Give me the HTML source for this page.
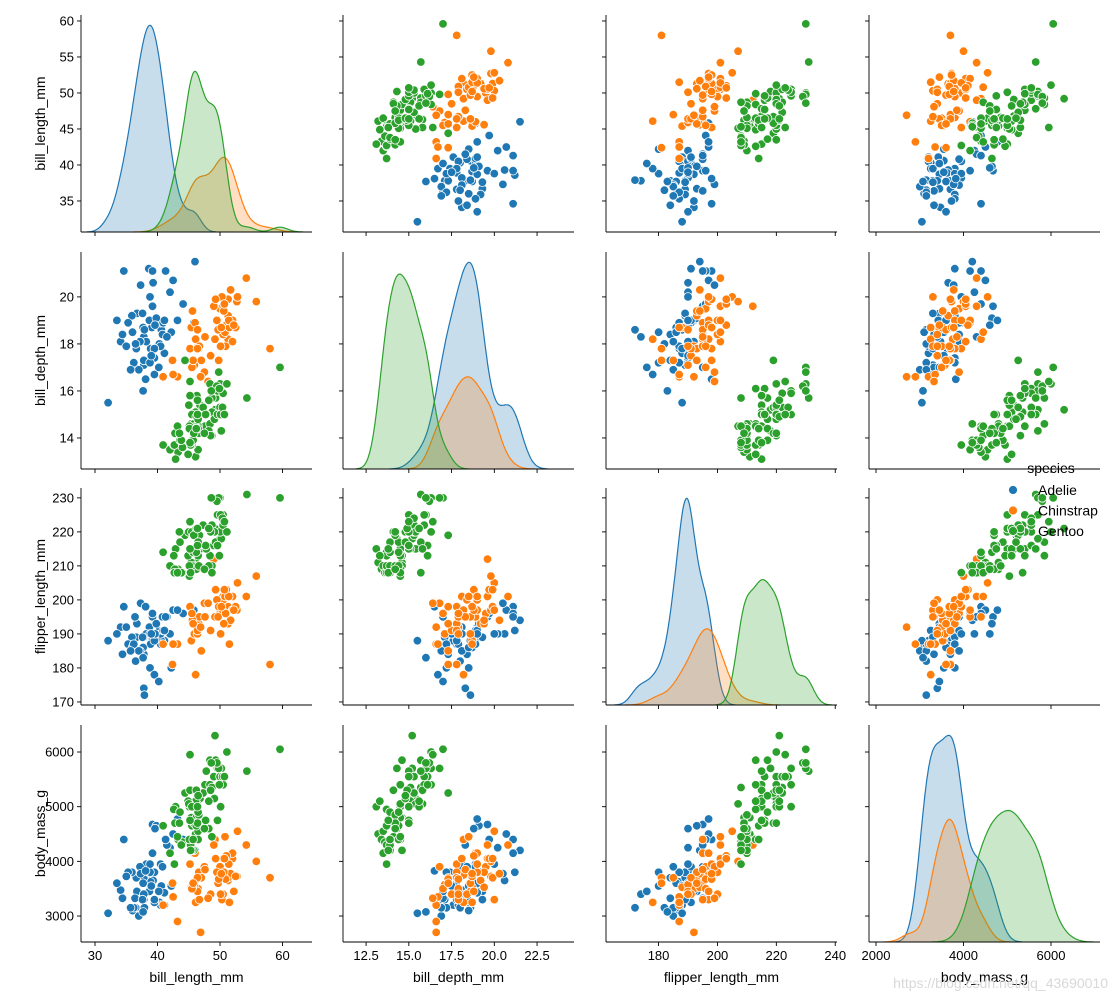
<!DOCTYPE html>
<html><head><meta charset="utf-8">
<style>
body{margin:0;background:#fff;}
svg{display:block;font-family:"Liberation Sans","DejaVu Sans",sans-serif;}
</style></head>
<body>
<svg id="chart" width="1117" height="1000" viewBox="0 0 1117 1000"></svg>
<script>
// data rows: [bill_length_mm, bill_depth_mm, flipper_length_mm, body_mass_g]
const adelie = [[39.1,18.7,189,3750],[39.5,17.4,190,3800],[40.3,18.0,191,3250],[36.7,19.3,193,3450],[39.3,20.6,190,3650],[38.9,17.8,187,3625],[39.2,19.6,195,4675],[34.1,18.1,192,3475],[42.0,20.2,190,4250],[37.8,17.1,189,3300],[37.8,17.3,184,3700],[41.1,17.6,188,3200],[38.6,21.2,191,3800],[34.6,21.1,198,4400],[36.6,17.8,189,3700],[38.7,19.0,192,3450],[42.5,20.7,197,4500],[34.4,18.4,184,3325],[46.0,21.5,194,4200],[37.8,18.3,174,3400],[37.7,18.7,186,3600],[35.9,19.2,189,3800],[38.2,18.1,190,3950],[38.8,17.2,180,3800],[35.3,18.9,187,3800],[40.6,18.6,188,3550],[40.5,17.9,187,3200],[37.9,18.6,172,3150],[40.5,18.9,190,3950],[39.5,16.7,178,3250],[37.2,18.1,185,3900],[39.5,17.8,188,3300],[40.9,18.9,191,3900],[36.4,17.0,195,3325],[39.2,21.1,196,4150],[38.8,20.0,190,3950],[42.2,18.5,180,3550],[37.6,19.3,189,3300],[39.8,19.1,193,4650],[36.5,18.0,182,3150],[40.8,18.4,195,3900],[36.0,18.5,186,3100],[44.1,19.7,196,4400],[37.0,16.9,185,3000],[39.6,18.8,190,4600],[41.1,19.0,191,3425],[36.2,17.2,187,3150],[37.3,20.5,199,3775],[41.5,18.3,195,4300],[32.1,15.5,188,3050],[38.1,16.5,198,3825],[35.7,16.9,185,3150],[41.3,21.1,195,4400],[33.5,19.0,190,3600],[45.8,18.9,197,4150],[43.2,19.0,197,4775],[35.0,17.9,192,3725],[37.7,16.0,183,3075],[40.2,17.0,176,3450],[39.0,17.5,190,3550]];
const chinstrap = [[46.5,17.9,192,3500],[50.0,19.5,196,3900],[51.3,19.2,193,3650],[45.4,18.7,188,3525],[52.7,19.8,197,3725],[45.2,17.8,198,3950],[46.1,18.2,178,3250],[51.3,18.2,197,3750],[46.0,18.9,195,4150],[51.3,19.9,198,3700],[46.6,17.8,193,3800],[51.7,20.3,194,3775],[47.0,17.3,185,3700],[52.0,18.1,201,4050],[45.9,17.1,190,3575],[50.5,19.6,201,4050],[50.3,20.0,197,3300],[58.0,17.8,181,3700],[46.4,18.6,190,3450],[49.2,18.2,195,4400],[42.4,17.3,181,3600],[48.5,17.5,191,3400],[43.2,16.6,187,2900],[50.6,19.4,193,3800],[46.7,17.9,195,3300],[52.0,19.0,197,4150],[50.5,18.4,200,3400],[49.5,19.0,200,3800],[46.4,17.8,191,3700],[52.8,20.0,205,4550],[40.9,16.6,187,3200],[54.2,20.8,201,4300],[42.5,16.7,187,3350],[51.0,18.8,203,4100],[49.7,18.6,195,3600],[47.5,16.8,199,3900],[47.6,18.3,195,3850],[52.5,18.7,198,3725],[45.6,19.4,194,3525],[55.8,19.8,207,4000],[46.9,16.6,192,2700],[45.5,17.0,196,3500],[50.9,17.9,196,3675],[50.8,18.5,201,4450],[50.1,17.9,190,3400],[49.0,19.6,212,4300],[51.5,18.7,187,3250],[49.8,17.3,198,3675],[48.1,16.4,199,3325],[51.4,19.0,201,3950],[45.7,17.3,193,3600],[50.7,19.7,203,4050],[52.2,18.8,197,3450],[49.3,19.9,203,4050],[50.2,18.7,198,3775]];
const gentoo = [[46.1,13.2,211,4500],[50.0,16.3,230,5700],[48.7,14.1,210,4450],[50.0,15.2,218,5700],[47.6,14.5,215,5400],[46.5,13.5,210,4550],[45.4,14.6,211,4800],[46.7,15.3,219,5200],[43.3,13.4,209,4400],[46.8,15.4,215,5150],[40.9,13.7,214,4650],[49.0,16.1,216,5550],[45.5,13.7,214,4650],[48.4,14.6,213,5850],[45.8,14.6,210,4200],[49.3,15.7,217,5850],[42.0,13.5,210,4150],[49.2,15.2,221,6300],[46.2,14.5,209,4800],[48.7,15.1,222,5350],[50.2,14.3,218,5700],[45.1,14.5,215,5000],[46.5,14.5,213,4400],[46.3,15.8,215,5050],[42.9,13.1,215,5000],[46.1,15.1,215,5100],[47.8,15.0,215,5650],[48.2,14.3,210,4600],[50.0,15.3,220,5550],[47.3,15.3,222,5250],[42.8,14.2,209,4700],[45.1,14.5,207,5050],[59.6,17.0,230,6050],[49.1,14.8,220,5150],[48.4,16.3,220,5400],[42.6,13.7,213,4950],[44.4,17.3,219,5250],[44.0,13.6,208,4350],[48.7,15.7,208,5350],[42.7,13.7,208,3950],[49.6,16.0,225,5700],[45.3,13.7,210,4300],[49.6,15.0,216,4750],[50.5,15.9,222,5550],[43.6,13.9,217,4900],[45.5,13.9,210,4200],[50.5,15.9,225,5400],[44.9,13.3,213,5100],[45.2,15.8,215,5300],[46.6,14.2,210,4850],[48.5,14.1,220,5300],[45.1,14.4,210,4400],[50.1,15.0,225,5000],[46.5,14.4,217,4900],[45.0,15.4,220,5050],[43.8,13.9,208,4300],[45.5,15.0,220,5000],[43.2,14.5,208,4450],[50.4,15.3,224,5550],[45.3,13.8,208,4200],[46.2,14.9,221,5300],[45.7,13.9,214,4400],[54.3,15.7,231,5650],[45.8,14.2,219,4700],[49.8,16.8,230,5700],[46.2,14.4,214,4650],[49.5,16.2,229,5800],[43.5,14.2,220,4700],[50.7,15.0,223,5550],[47.7,15.0,216,4750],[46.4,15.6,221,5000],[48.2,15.6,221,5100],[46.5,14.8,217,5200],[46.4,15.0,216,4700],[48.6,16.0,230,5800],[47.5,14.2,209,4600],[51.1,16.3,220,6000],[45.2,13.8,215,4750],[45.2,16.4,223,5950],[49.9,16.1,213,5400]];
// full-dataset species counts (used to weight the KDE areas)
const speciesCounts = [152,68,124];
const speciesNames = ["Adelie","Chinstrap","Gentoo"];
const varNames = ["bill_length_mm","bill_depth_mm","flipper_length_mm","body_mass_g"];
const xTicks = [[30,40,50,60],[12.5,15,17.5,20,22.5],[180,200,220,240],[2000,4000,6000]];
const xTickLabels = [["30","40","50","60"],["12.5","15.0","17.5","20.0","22.5"],["180","200","220","240"],["2000","4000","6000"]];
const yTicks = [[35,40,45,50,55,60],[14,16,18,20],[170,180,190,200,210,220,230],[3000,4000,5000,6000]];

const colors = ["#1f77b4","#ff7f0e","#2ca02c"];
const groups = [adelie, chinstrap, gentoo];
const colLeft=[81,343,606,869], rowTop=[15,252,488,725], W=231, H=217;
const xDom=[[27.76,64.72],[11.15,24.66],[162.15,240.6],[1840,7120]];
const yDom=[[30.69,60.83],[12.68,21.91],[169.1,232.9],[2525,6494]];
const NS="http://www.w3.org/2000/svg";
const svg=document.getElementById('chart');
function el(t,a,p){const e=document.createElementNS(NS,t);for(const k in a)e.setAttribute(k,a[k]);(p||svg).appendChild(e);return e;}
function sx(c,v){return colLeft[c]+(v-xDom[c][0])/(xDom[c][1]-xDom[c][0])*W;}
function sy(r,v){return rowTop[r]+H-(v-yDom[r][0])/(yDom[r][1]-yDom[r][0])*H;}

for(let r=0;r<4;r++)for(let c=0;c<4;c++){
  const g=el('g',{});
  
  
  if(r===c){
    const N=speciesCounts.reduce((s,a)=>s+a,0);
    const curves=[];let maxD=0;
    groups.forEach((rows,k)=>{
      const vals=rows.map(d=>d[c]);const n=vals.length;
      const m=vals.reduce((a,b)=>a+b,0)/n;
      const sd=Math.sqrt(vals.reduce((a,b)=>a+(b-m)*(b-m),0)/(n-1));
      const bw=sd*Math.pow(speciesCounts[k],-0.2)*1.1;
      const lo=Math.min(...vals)-3*bw, hi=Math.max(...vals)+3*bw;
      const pts=[];
      for(let i=0;i<=200;i++){const x=lo+(hi-lo)*i/200;let d=0;
        for(const v of vals){const z=(x-v)/bw;d+=Math.exp(-0.5*z*z);}
        d=d/(n*bw*Math.sqrt(2*Math.PI))*(speciesCounts[k]/N);pts.push([x,d]);if(d>maxD)maxD=d;}
      curves.push(pts);
    });
    const top=maxD*1.05;
    curves.forEach((pts,k)=>{
      const P=pts.map(p=>[sx(c,p[0]),rowTop[r]+H-p[1]/top*H]);
      const line=P.map((p,i)=>(i?'L':'M')+p[0].toFixed(1)+','+p[1].toFixed(1)).join('');
      const base=rowTop[r]+H;
      const a=el('path',{d:line+'L'+P[P.length-1][0].toFixed(1)+','+base+'L'+P[0][0].toFixed(1)+','+base+'Z',fill:colors[k],'fill-opacity':0.25,stroke:'none'},g);
      
      
      const l=el('path',{d:line,fill:'none',stroke:colors[k],'stroke-width':1.2},g);
      
      
    });
  } else {
    groups.forEach((rows,k)=>rows.forEach(d=>{
      const p=el('circle',{cx:sx(c,d[c]).toFixed(1),cy:sy(r,d[r]).toFixed(1),r:4.3,fill:colors[k],stroke:'#fff','stroke-width':0.8},g);
      
      
    }));
  }
  const L=colLeft[c],T=rowTop[r],B=T+H;
  el('line',{x1:L,y1:T,x2:L,y2:B,stroke:'#000','stroke-width':0.9},g);
  el('line',{x1:L,y1:B,x2:L+W,y2:B,stroke:'#000','stroke-width':0.9},g);
  xTicks[c].forEach((t,i)=>{const x=sx(c,t);if(x<L-0.5||x>L+W+0.5)return;
    el('line',{x1:x,y1:B,x2:x,y2:B+4,stroke:'#000','stroke-width':0.9},g);
    if(r===3){const tx=el('text',{x:x,y:B+18,'text-anchor':'middle','font-size':13,fill:'#000'},g);tx.textContent=xTickLabels[c][i];
      }
  });
  yTicks[r].forEach(t=>{const y=sy(r,t);if(y<T-0.5||y>B+0.5)return;
    el('line',{x1:L-4,y1:y,x2:L,y2:y,stroke:'#000','stroke-width':0.9},g);
    if(c===0){const tx=el('text',{x:L-7,y:y+4.5,'text-anchor':'end','font-size':13,fill:'#000'},g);tx.textContent=String(t);
      }
  });
}
for(let i=0;i<4;i++){
  const xt=el('text',{x:colLeft[i]+W/2,y:982,'text-anchor':'middle','font-size':14,fill:'#000'});
  xt.textContent=varNames[i];
  
  
  const cy=rowTop[i]+H/2;
  const yt=el('text',{x:45,y:cy,'text-anchor':'middle','font-size':14,fill:'#000',transform:'rotate(-90 45 '+cy+')'});
  yt.textContent=varNames[i];
  
  
}
const lg=el('g',{});


const lt=el('text',{x:1051,y:473,'text-anchor':'middle','font-size':14,fill:'#000'},lg);lt.textContent='species';
speciesNames.forEach((s,k)=>{
  const y=490+k*20.5;
  const m=el('circle',{cx:1013,cy:y,r:4.5,fill:colors[k],stroke:'#fff','stroke-width':0.8},lg);
  
  
  const t=el('text',{x:1038,y:y+5,'font-size':14,fill:'#000'},lg);t.textContent=s;
  
  
});
const wm=el('text',{x:1108,y:988,'text-anchor':'end','font-size':14,fill:'#d8d8d8'});
wm.textContent='https://blog.csdn.net/qq_43690010';


</script>
</body></html>
